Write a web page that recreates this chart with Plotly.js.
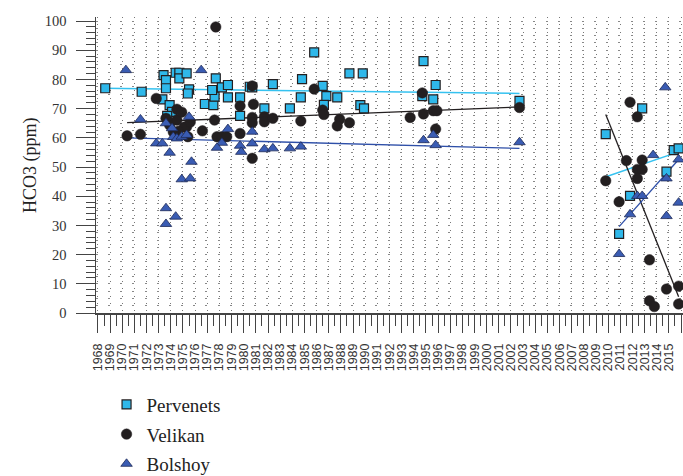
<!DOCTYPE html>
<html>
<head>
<meta charset="utf-8">
<script src="https://cdn.plot.ly/plotly-3.0.1.min.js"></script>
<style>html,body{margin:0;padding:0;background:#fff;}#chart{width:683px;height:476px;}
.legendtext, .ytick text{font-family:"Liberation Serif", "Times New Roman", serif !important;}</style>
</head>
<body>
<div id="chart"></div>
<script>
// Pervenets
const pervYears = [1968.6,1971.6,1973.4,1973.6,1973.6,1973.3,1973.9,1974.1,1973.7,1974.4,1974.7,1974.7,1975.3,1975.5,1975.4,1976.8,1977.5,1977.7,1977.6,1977.4,1978.2,1978.7,1978.7,1979.7,1979.7,1980.5,1985.8,1988.7,1989.8,1984.8,1982.4,1980.7,1986.5,1986.8,1987.7,1984.7,1986.6,1981.7,1983.8,1989.6,1989.9,1994.8,1995.8,1994.7,1995.6,2002.7,2012.8,2009.8,2010.9,2011.8,2014.8,2015.4,2015.8];
const pervValues = [77.0,75.8,81.5,79.8,77.0,73.2,71.2,68.9,67.5,82.3,82.3,80.4,82.1,76.6,75.2,71.6,71.2,80.4,74.1,76.4,77.3,78.1,73.9,73.9,67.5,77.5,89.3,82.1,82.1,80.1,78.4,77.3,77.8,74.3,73.9,73.9,71.3,70.1,70.1,71.2,70.1,86.3,78.1,74.3,73.2,72.7,70.1,61.3,27.1,40.1,48.4,55.8,56.4];
// Velikan
const veliYears = [1977.7,1972.8,1970.4,1971.5,1974.5,1979.7,1979.7,1977.6,1976.6,1977.8,1978.2,1978.6,1973.9,1974.5,1975.3,1975.4,1973.6,1974.9,1975.1,1974.6,1975.6,1974.2,1980.7,1980.8,1980.7,1980.7,1981.7,1981.7,1982.4,1984.7,1985.8,1986.5,1986.6,1987.9,1987.7,1988.7,1980.7,1994.7,1993.7,1994.8,1995.6,1995.9,1995.8,2002.7,2011.8,2012.4,2011.5,2012.8,2012.4,2012.8,2012.4,2009.8,2010.9,2013.4,2014.8,2015.8,2013.4,2013.8,2015.8];
const veliValues = [98.0,73.5,60.7,61.2,69.8,70.9,61.5,66.1,62.4,60.4,60.4,60.4,64.4,66.1,63.8,60.4,66.7,68.8,63.7,62.3,65.4,62.0,77.8,71.5,67.0,65.2,67.2,65.5,66.7,65.8,76.7,69.5,68.0,66.4,64.1,65.2,53.0,75.4,67.0,68.2,69.3,69.3,63.0,70.4,72.2,67.2,52.2,52.4,49.2,49.2,46.1,45.3,38.1,18.2,8.2,9.2,4.2,2.2,3.1];
// Bolshoy
const bolsYears = [1970.3,1976.5,1971.5,1972.8,1973.3,1973.9,1975.5,1974.2,1974.5,1974.9,1975.3,1978.7,1978.2,1977.8,1979.7,1979.8,1973.6,1974.1,1975.7,1974.9,1975.6,1973.6,1974.4,1973.6,1980.7,1980.7,1981.7,1982.4,1983.8,1984.7,1994.8,1995.6,1995.8,2002.7,2014.7,2013.7,2015.8,2014.8,2012.4,2012.8,2015.8,2011.8,2014.8,2010.9];
const bolsValues = [83.2,83.2,66.3,58.1,58.1,54.9,67.2,60.3,59.8,60.4,61.0,63.0,58.3,56.6,57.3,55.2,65.0,63.3,51.8,45.8,46.1,35.9,33.0,30.5,62.1,58.1,56.1,56.4,56.4,57.0,59.2,61.0,57.5,58.5,77.3,54.1,52.6,46.1,40.1,40.1,37.8,33.8,33.2,20.2];
// Trend lines (two segments per series)
const pervTrend1Years = [1968.5, 2002.7], pervTrend1Values = [77.0, 75.2];
const pervTrend2Years = [2009.7, 2015.8], pervTrend2Values = [46.5, 55.2];
const veliTrend1Years = [1970.4, 2002.7], veliTrend1Values = [65.2, 70.6];
const veliTrend2Years = [2009.8, 2015.8], veliTrend2Values = [68.0, 5.6];
const bolsTrend1Years = [1970.4, 2002.7], bolsTrend1Values = [60.0, 56.4];
const bolsTrend2Years = [2010.9, 2015.8], bolsTrend2Values = [29.6, 52.6];

const yearTicks = [];
for (let y = 1968; y <= 2016; y++) yearTicks.push(y);
const yearLabels = yearTicks.map(String);
const yTitle = 'HCO3 (ppm)';

const cPerv = '#2fb8ea', cVeli = '#231f20', cBols = '#3a5cb3';
const cPervLine = '#35c2f0', cBolsLine = '#2e4fa8';
const serif = 'Times New Roman';

function trend(x, y, color, w) {
  return {x: x, y: y, mode: 'lines', type: 'scatter', showlegend: false, hoverinfo: 'skip',
          line: {color: color, width: w}, cliponaxis: false};
}

const traces = [
  trend(pervTrend1Years, pervTrend1Values, cPervLine, 1.5),
  trend(pervTrend2Years, pervTrend2Values, cPervLine, 1.5),
  trend(veliTrend1Years, veliTrend1Values, cVeli, 1.3),
  trend(veliTrend2Years, veliTrend2Values, cVeli, 1.3),
  trend(bolsTrend1Years, bolsTrend1Values, cBolsLine, 1.3),
  trend(bolsTrend2Years, bolsTrend2Values, cBolsLine, 1.3),
  {x: pervYears, y: pervValues, name: 'Pervenets', mode: 'markers', type: 'scatter', legendgroup: 'a', cliponaxis: false,
   marker: {symbol: 'square', size: 9, color: cPerv, line: {color: '#231f20', width: 1.2}}},
  {x: veliYears, y: veliValues, name: 'Velikan', mode: 'markers', type: 'scatter', legendgroup: 'b', cliponaxis: false,
   marker: {symbol: 'circle', size: 10.5, color: cVeli, line: {color: '#231f20', width: 0.5}}},
  {x: bolsYears, y: bolsValues, name: 'Bolshoy', mode: 'markers', type: 'scatter', legendgroup: 'c', cliponaxis: false,
   marker: {symbol: 'triangle-up', size: 10, color: cBols, line: {color: '#1e2a55', width: 0.8}}},
  // invisible helper for horizontal dotted texture
  {x: [1968], y: [0], yaxis: 'y2', mode: 'markers', marker: {opacity: 0}, showlegend: false, hoverinfo: 'skip'}
];

const layout = {
  width: 683, height: 476,
  font: {family: serif, color: '#222'},
  margin: {l: 96, r: 0, t: 17, b: 163, autoexpand: false},
  paper_bgcolor: '#fff', plot_bgcolor: '#fff',
  showlegend: true,
  xaxis: {
    range: [1967.84, 2016.16], tickmode: 'array', tickvals: yearTicks, ticktext: yearLabels,
    tickangle: -90, ticks: 'outside', ticklen: 18, tickwidth: 1, tickcolor: '#444',
    ticklabelstandoff: 6, automargin: false,
    minor: {dtick: 0.5, tick0: 1968, ticks: 'outside', ticklen: 11, tickcolor: '#444', showgrid: false},
    showline: true, linecolor: '#444', linewidth: 1.5,
    showgrid: true, gridcolor: '#777', gridwidth: 1, griddash: '1px,6.33px',
    zeroline: false,
    tickfont: {family: 'Liberation Sans', size: 12.5, color: '#333'}
  },
  yaxis: {
    range: [0, 101.4], tickmode: 'linear', tick0: 0, dtick: 10, automargin: false,
    ticks: 'outside', ticklen: 19, tickwidth: 1, tickcolor: '#444', ticklabelstandoff: 6,
    minor: {dtick: 2, ticks: 'outside', ticklen: 9, tickcolor: '#444', showgrid: false},
    showline: true, linecolor: '#444', linewidth: 1.5, showgrid: false, zeroline: false,
    tickfont: {family: serif, size: 14.5, color: '#333'}
  },
  yaxis2: {
    overlaying: 'y', range: [0, 101.4], tickmode: 'linear', tick0: 0, dtick: 2.5, automargin: false,
    showticklabels: false, ticks: '', showline: false, zeroline: false,
    showgrid: true, gridcolor: '#888', gridwidth: 1, griddash: '2px,10.15px'
  },
  annotations: [{
    text: yTitle, xref: 'paper', yref: 'paper', x: -66 / 587, y: 0.5, xanchor: 'center', yanchor: 'middle',
    textangle: -90, showarrow: false, font: {family: serif, size: 18, color: '#222'}
  }],
  legend: {
    xref: 'container', yref: 'container', x: 0.156, y: 0.19, xanchor: 'left', yanchor: 'top',
    font: {family: serif, size: 19, color: '#222'},
    traceorder: 'grouped', tracegroupgap: 2, bgcolor: 'rgba(0,0,0,0)'
  }
};

Plotly.newPlot('chart', traces, layout, {staticPlot: true, displayModeBar: false});
</script>
</body>
</html>
